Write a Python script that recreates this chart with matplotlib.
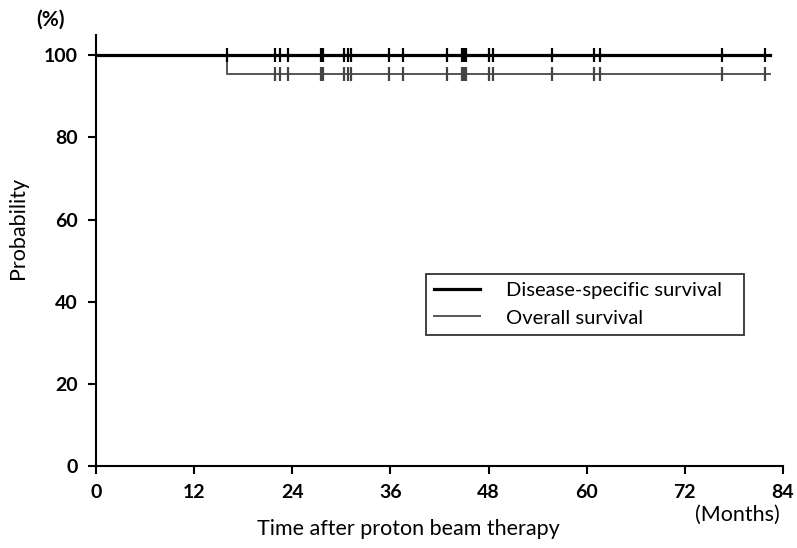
import numpy as np
import matplotlib.pyplot as plt

plt.rcParams['font.family'] = ['Lato', 'DejaVu Sans']

# one death (not disease-related) at 16 months, the rest censored
os_event_times = [16.0]
dss_event_times = []
censor_times = [21.9, 22.5, 23.5, 27.5, 27.8, 30.3, 30.8, 31.2, 35.8, 37.6,
                42.9, 44.8, 45.0, 45.2, 48.0, 48.5, 55.7, 60.9, 61.6, 76.6, 81.8]
followup_end = 82.4
xticks = [0, 12, 24, 36, 48, 60, 72, 84]
yticks = [0, 20, 40, 60, 80, 100]


def km_curve(events, censored):
    # simple Kaplan-Meier estimate returning step coordinates
    times = sorted(set(events))
    all_t = np.array(list(events) + list(censored))
    s = 100.0
    xs, ys = [0.0], [100.0]
    for t in times:
        at_risk = np.sum(all_t >= t)
        d = events.count(t)
        xs.append(t)
        ys.append(s)
        s = s * (1 - d / at_risk)
        xs.append(t)
        ys.append(s)
    xs.append(followup_end)
    ys.append(s)
    return np.array(xs), np.array(ys)


def surv_at(xs, ys, t):
    idx = np.searchsorted(xs, t, side='right') - 1
    return ys[idx]


fig, ax = plt.subplots(figsize=(7.97, 5.48), dpi=100)
fig.subplots_adjust(left=0.1204, right=0.9824, bottom=0.1496, top=0.936)

# disease-specific: the death at 16 months counts as censored
dss_cens = censor_times + [16.0]
x1, y1 = km_curve(dss_event_times, dss_cens)
x2, y2 = km_curve(os_event_times, censor_times)

ax.plot(x2, y2, color='#555555', lw=1.4, label='Overall survival', zorder=2)
ax.plot(x1, y1, color='black', lw=2.3, label='Disease-specific survival', zorder=3)

ax.plot(dss_cens, [surv_at(x1, y1, t) for t in dss_cens], ls='none',
        marker='|', ms=9.5, mew=1.6, color='black', zorder=4)
ax.plot(censor_times, [surv_at(x2, y2, t) for t in censor_times], ls='none',
        marker='|', ms=9.5, mew=1.6, color='#444444', zorder=4)

ax.set_xlim(0, 84)
ax.set_ylim(0, 104.9)
ax.set_xticks(xticks)
ax.set_yticks(yticks)
for sp in ['top', 'right']:
    ax.spines[sp].set_visible(False)
for sp in ['left', 'bottom']:
    ax.spines[sp].set_linewidth(1.5)
ax.tick_params(direction='out', length=6, width=1.5, labelsize=14, pad=7)
for lab in ax.get_xticklabels() + ax.get_yticklabels():
    lab.set_fontweight('bold')

ax.set_xlabel('Time after proton beam therapy', fontsize=15.5)
ax.xaxis.set_label_coords(0.455, -0.146)
ax.xaxis.label.set_va('center')
ax.set_ylabel('Probability', fontsize=15.5)
ax.yaxis.set_label_coords(-0.1135, 0.552)
ax.yaxis.label.set_va('center')
fig.text(0.063, 0.964, '(%)', fontsize=15, fontweight='bold', ha='center', va='center')
fig.text(0.925, 0.06, '(Months)', fontsize=15.5, ha='center', va='center')

handles, labels = ax.get_legend_handles_labels()
leg = ax.legend([handles[1], handles[0]], [labels[1], labels[0]],
                loc='lower left', bbox_to_anchor=(0.480, 0.305, 0.463, 0.148),
                mode='expand', fontsize=14.5, frameon=True, fancybox=False,
                edgecolor='black', handlelength=2.3, borderpad=0.4,
                labelspacing=0.5, handletextpad=1.3, borderaxespad=0)
leg.get_frame().set_linewidth(1.3)

fig.savefig('out.png', dpi=100)
